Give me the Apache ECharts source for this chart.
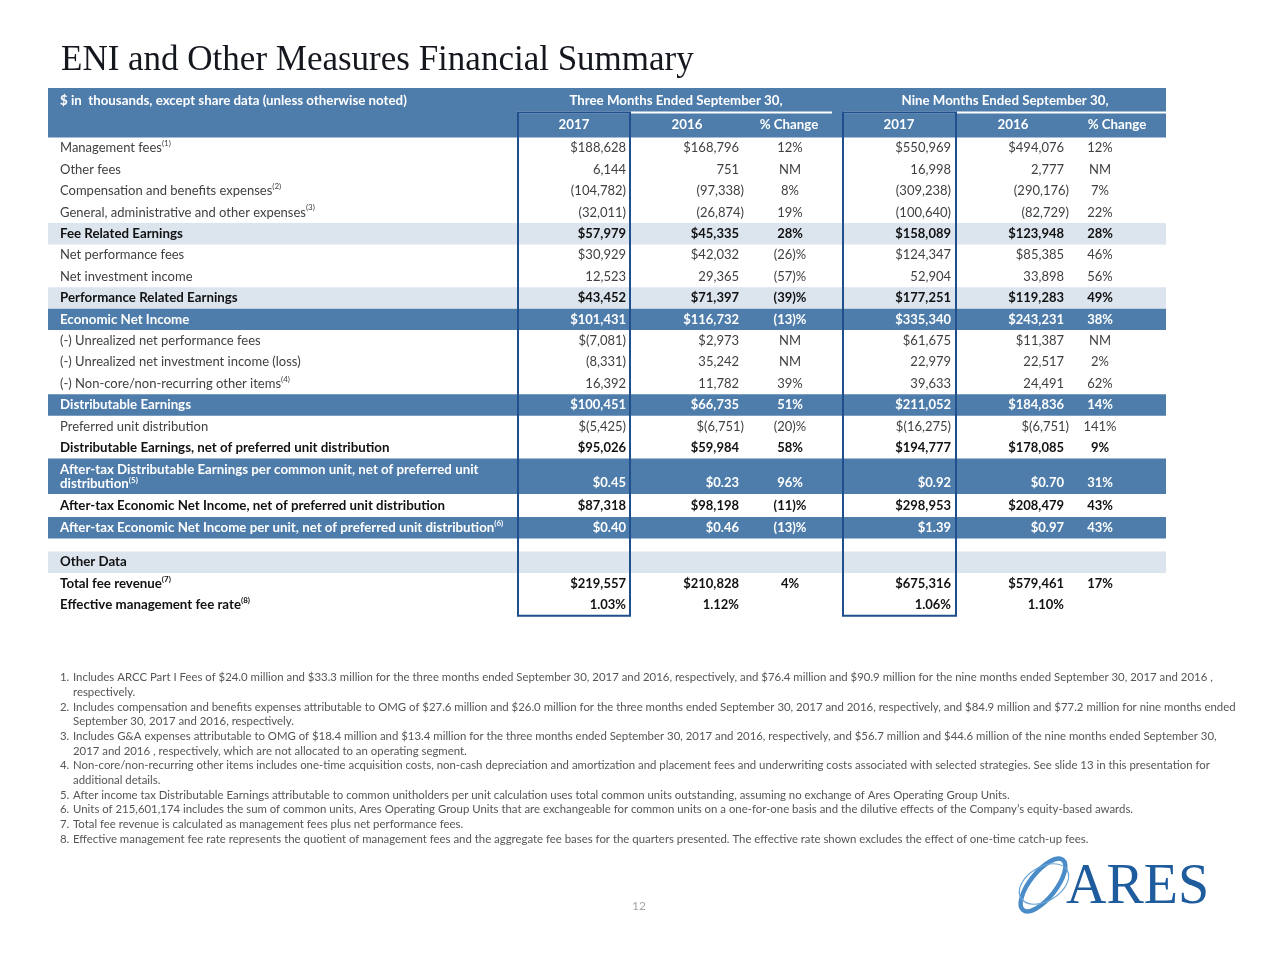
<!DOCTYPE html>
<html>
<head>
<meta charset="utf-8">
<script src="https://cdn.jsdelivr.net/npm/echarts@6/dist/echarts.min.js"></script>
<style>html,body{margin:0;padding:0;background:#fff}#c{width:1280px;height:960px}</style>
</head>
<body>
<div id="c"></div>
<script>
// ---------------- DATA ----------------
const chartTitle = 'ENI and Other Measures Financial Summary';
const unitNote = '$ in  thousands, except share data (unless otherwise noted)';
const periodHeaders = ['Three Months Ended September 30,', 'Nine Months Ended September 30,'];
const columnHeaders = ['2017', '2016', '% Change', '2017', '2016', '% Change'];

const rowLabels = [
  'Management fees',
  'Other fees',
  'Compensation and benefits expenses',
  'General, administrative and other expenses',
  'Fee Related Earnings',
  'Net performance fees',
  'Net investment income',
  'Performance Related Earnings',
  'Economic Net Income',
  '(-) Unrealized net performance fees',
  '(-) Unrealized net investment income (loss)',
  '(-) Non-core/non-recurring other items',
  'Distributable Earnings',
  'Preferred unit distribution',
  'Distributable Earnings, net of preferred unit distribution',
  'After-tax Distributable Earnings per common unit, net of preferred unit\ndistribution',
  'After-tax Economic Net Income, net of preferred unit distribution',
  'After-tax Economic Net Income per unit, net of preferred unit distribution',
  '',
  'Other Data',
  'Total fee revenue',
  'Effective management fee rate'
];
const rowNotes = ['1','','2','3','','','','','','','','4','','','','5','','6','','','7','8'];

const threeMonths2017 = ['$188,628','6,144','(104,782)','(32,011)','$57,979','$30,929','12,523','$43,452','$101,431','$(7,081)','(8,331)','16,392','$100,451','$(5,425)','$95,026','$0.45','$87,318','$0.40','','','$219,557','1.03%'];
const threeMonths2016 = ['$168,796','751','(97,338)','(26,874)','$45,335','$42,032','29,365','$71,397','$116,732','$2,973','35,242','11,782','$66,735','$(6,751)','$59,984','$0.23','$98,198','$0.46','','','$210,828','1.12%'];
const threeMonthsChange = ['12%','NM','8%','19%','28%','(26)%','(57)%','(39)%','(13)%','NM','NM','39%','51%','(20)%','58%','96%','(11)%','(13)%','','','4%',''];
const nineMonths2017 = ['$550,969','16,998','(309,238)','(100,640)','$158,089','$124,347','52,904','$177,251','$335,340','$61,675','22,979','39,633','$211,052','$(16,275)','$194,777','$0.92','$298,953','$1.39','','','$675,316','1.06%'];
const nineMonths2016 = ['$494,076','2,777','(290,176)','(82,729)','$123,948','$85,385','33,898','$119,283','$243,231','$11,387','22,517','24,491','$184,836','$(6,751)','$178,085','$0.70','$208,479','$0.97','','','$579,461','1.10%'];
const nineMonthsChange = ['12%','NM','7%','22%','28%','46%','56%','49%','38%','NM','2%','62%','14%','141%','9%','31%','43%','43%','','','17%',''];

const footnotes = [
  ['1.', 'Includes ARCC Part I Fees of $24.0 million and $33.3 million for the three months ended September 30, 2017 and 2016, respectively, and $76.4 million and $90.9 million for the nine months ended September 30, 2017 and 2016 ,', 'respectively.'],
  ['2.', 'Includes compensation and benefits expenses attributable to OMG of $27.6 million and $26.0 million for the three months ended September 30, 2017 and 2016, respectively, and $84.9 million and $77.2 million for nine months ended', 'September 30, 2017 and 2016, respectively.'],
  ['3.', 'Includes G&A expenses attributable to OMG of $18.4 million and $13.4 million for the three months ended September 30, 2017 and 2016, respectively, and $56.7 million and $44.6 million of the nine months ended September 30,', '2017 and 2016 , respectively, which are not allocated to an operating segment.'],
  ['4.', 'Non-core/non-recurring other items includes one-time acquisition costs, non-cash depreciation and amortization and placement fees and underwriting costs associated with selected strategies. See slide 13 in this presentation for', 'additional details.'],
  ['5.', 'After income tax Distributable Earnings attributable to common unitholders per unit calculation uses total common units outstanding, assuming no exchange of Ares Operating Group Units.'],
  ['6.', 'Units of 215,601,174 includes the sum of common units, Ares Operating Group Units that are exchangeable for common units on a one-for-one basis and the dilutive effects of the Company\u2019s equity-based awards.'],
  ['7.', 'Total fee revenue is calculated as management fees plus net performance fees.'],
  ['8.', 'Effective management fee rate represents the quotient of management fees and the aggregate fee bases for the quarters presented. The effective rate shown excludes the effect of one-time catch-up fees.']
];
const pageNumber = '12';
const logoText = 'ARES';

// ---------------- LAYOUT / STYLE ----------------
const rowStyles = ['plain','plain','plain','plain','light','plain','plain','light','dark','plain','plain','plain','dark','plain','bold','dark','bold','dark','gap','light','bold','bold'];
const rowHeights = [21.4,21.4,21.4,21.4,21.4,21.4,21.4,21.4,21.4,21.4,21.4,21.4,21.4,21.4,21.4,35.5,23,21.5,13,21.4,21.4,21.4];
const headerHeights = [24.5, 25];
const TABLE_TOP = 88, TABLE_L = 48, TABLE_R = 1166, LABEL_X = 60;
const colAnchor = [626, 739, 790, 951, 1064, 1100];
const colAlign = ['right','right','center','right','right','center'];
const colHang = [0, 5, 0, 0, 5, 0];
const headerCenters = [574, 687, 789, 899, 1013, 1117];
const periodCenters = [676, 1005];
const periodRules = [[517, 832], [843, 1166]];
const boxSpans = [[518, 630], [843, 956]];
const FONT = 'Lato, "Open Sans", sans-serif';
const C = { dark:'#4e7dab', light:'#dce4ee', box:'#1f4f8c', plain:'#3f3f3f', bold:'#111111', white:'#ffffff', note:'#555555' };

const headerTotal = headerHeights[0] + headerHeights[1];
const rowTops = [];
let acc = headerTotal;
rowHeights.forEach(h => { rowTops.push(acc); acc += h; });
const totalH = acc;
const valueCols = [threeMonths2017, threeMonths2016, threeMonthsChange, nineMonths2017, nineMonths2016, nineMonthsChange];

// ---------------- RENDERERS ----------------
function renderHeader(params, api) {
  const a = api.coord([TABLE_L, 0]);
  const b = api.coord([TABLE_R, headerTotal]);
  const yA = api.coord([0, headerHeights[0] / 2])[1];
  const yRule = api.coord([0, headerHeights[0]])[1];
  const yB = api.coord([0, headerHeights[0] + headerHeights[1] / 2])[1];
  const children = [{ type:'rect', shape:{ x:a[0], y:a[1], width:b[0]-a[0], height:b[1]-a[1] }, style:{ fill:C.dark } }];
  children.push({ type:'text', style:{ text:unitNote, x:api.coord([LABEL_X,0])[0], y:yA, align:'left', verticalAlign:'middle', fill:C.white, fontFamily:FONT, fontWeight:'bold', fontSize:13.3 } });
  periodHeaders.forEach((t, k) => {
    children.push({ type:'text', style:{ text:t, x:api.coord([periodCenters[k],0])[0], y:yA, align:'center', verticalAlign:'middle', fill:C.white, fontFamily:FONT, fontWeight:'bold', fontSize:13.3 } });
    const r0 = api.coord([periodRules[k][0], 0])[0], r1 = api.coord([periodRules[k][1], 0])[0];
    children.push({ type:'line', shape:{ x1:r0, y1:yRule, x2:r1, y2:yRule }, style:{ stroke:C.white, lineWidth:2 } });
  });
  columnHeaders.forEach((t, k) => {
    children.push({ type:'text', style:{ text:t, x:api.coord([headerCenters[k],0])[0], y:yB, align:'center', verticalAlign:'middle', fill:C.white, fontFamily:FONT, fontWeight:'bold', fontSize:13.3 } });
  });
  return { type:'group', children };
}

function renderRow(params, api) {
  const i = api.value(0);
  const st = rowStyles[i];
  const top = rowTops[i], h = rowHeights[i];
  const p0 = api.coord([TABLE_L, top]);
  const p1 = api.coord([TABLE_R, top + h]);
  const yc = (p0[1] + p1[1]) / 2;
  const children = [];
  if (st === 'dark' || st === 'light') {
    children.push({ type:'rect', shape:{ x:p0[0], y:p0[1], width:p1[0]-p0[0], height:p1[1]-p0[1] }, style:{ fill: st === 'dark' ? C.dark : C.light } });
  }
  const fill = st === 'dark' ? C.white : (st === 'plain' ? C.plain : C.bold);
  const weight = st === 'plain' ? 'normal' : 'bold';
  const fsz = st === 'plain' ? 13 : 13.3;
  const label = rowLabels[i];
  const twoLine = label.indexOf('\n') >= 0;
  const lh = twoLine ? 14 : 17;
  if (label) {
    let txt = '{t|' + label + '}';
    if (rowNotes[i]) txt += '{s|(' + rowNotes[i] + ')}';
    children.push({ type:'text', style:{
      text: txt, x: api.coord([LABEL_X, 0])[0], y: yc, align:'left', verticalAlign:'middle',
      rich: {
        t: { fontFamily:FONT, fontSize:fsz, fontWeight:weight, fill:fill, lineHeight:lh },
        s: { fontFamily:FONT, fontSize:8, fontWeight:weight, fill:fill, verticalAlign:'top', lineHeight:9 }
      }
    } });
  }
  const vy = twoLine ? yc + lh / 2 : yc;
  valueCols.forEach((col, k) => {
    const v = col[i];
    if (!v) return;
    const hang = (v.charAt(v.length - 1) === ')') ? colHang[k] : 0;
    children.push({ type:'text', style:{
      text: v, x: api.coord([colAnchor[k] + hang, 0])[0], y: vy, align: colAlign[k], verticalAlign:'middle',
      fill: fill, fontFamily: FONT, fontWeight: weight, fontSize: 13
    } });
  });
  return { type:'group', children };
}

function renderBox(params, api) {
  const k = api.value(0);
  const a = api.coord([boxSpans[k][0], headerHeights[0]]);
  const b = api.coord([boxSpans[k][1], totalH]);
  return { type:'rect', shape:{ x:a[0], y:a[1], width:b[0]-a[0], height:b[1]-a[1] }, style:{ fill:'none', stroke:C.box, lineWidth:2 } };
}

// ---------------- GRAPHIC (footnotes, page, logo) ----------------
const graphics = [];
let fy = 679;
footnotes.forEach(fn => {
  graphics.push({ type:'text', left:60, top:fy - 7, style:{ text:fn[0], fill:C.note, fontFamily:FONT, fontSize:11.4 } });
  for (let j = 1; j < fn.length; j++) {
    graphics.push({ type:'text', left:73, top:fy - 7, style:{ text:fn[j], fill:C.note, fontFamily:FONT, fontSize:11.4 } });
    fy += 14.7;
  }
});
graphics.push({ type:'text', left:632, top:900, style:{ text:pageNumber, fill:'#a6a6a6', fontFamily:FONT, fontSize:12 } });
graphics.push({ type:'ellipse', shape:{ cx:1043, cy:885, rx:32, ry:13 }, rotation:0.9, originX:1043, originY:885, style:{ fill:'none', stroke:'#4a8cc7', lineWidth:4.5 } });
graphics.push({ type:'ellipse', shape:{ cx:1044, cy:884, rx:27, ry:17 }, rotation:0.55, originX:1044, originY:884, style:{ fill:'none', stroke:'#6aa3d4', lineWidth:1.2 } });
graphics.push({ type:'text', left:1066, top:860, style:{ text:logoText, fill:'#1f5c9e', fontFamily:'"Liberation Serif", serif', fontSize:56 } });

// ---------------- CHART ----------------
const chart = echarts.init(document.getElementById('c'), null, { renderer:'canvas', width:1280, height:960 });
chart.setOption({
  animation: false,
  backgroundColor: '#ffffff',
  title: { text: chartTitle, left: 56, top: 38, textStyle: { fontFamily:'"Liberation Serif", serif', fontSize:35, fontWeight:'normal', color:'#15171f' } },
  grid: { left: 0, right: 0, top: TABLE_TOP, height: totalH, containLabel: false },
  xAxis: { type:'value', min:0, max:1280, show:false },
  yAxis: { type:'value', min:0, max:totalH, inverse:true, show:false },
  graphic: graphics,
  series: [
    { type:'custom', name:'header', clip:false, z:1, data:[[0]], renderItem: renderHeader, silent:true },
    { type:'custom', name:'rows', clip:false, z:2, data: rowLabels.map((l, i) => ({ name: l, value: [i] })), renderItem: renderRow, silent:true },
    { type:'custom', name:'boxes', clip:false, z:3, data:[[0],[1]], renderItem: renderBox, silent:true }
  ]
});
</script>
</body>
</html>
